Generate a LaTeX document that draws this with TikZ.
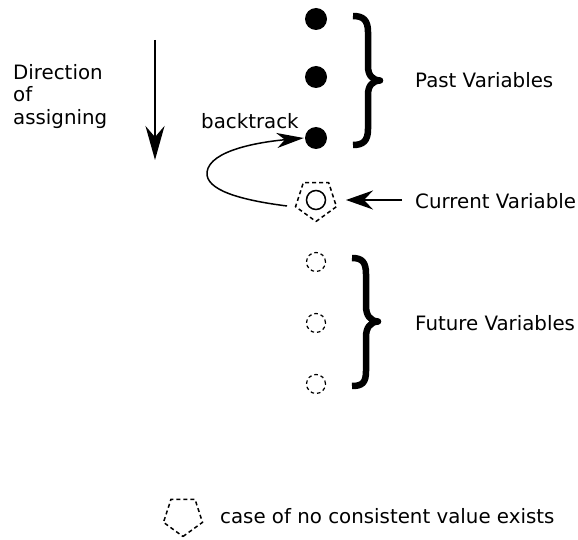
\documentclass[tikz,border=0pt]{standalone}
\usepackage{fontspec}
\setmainfont{DejaVu Sans}
\usetikzlibrary{arrows.meta,shapes.geometric}
\begin{document}
\begin{tikzpicture}[x=1pt,y=-1pt,
  lbl/.style={font=\fontsize{19.8}{22.5}\selectfont,anchor=west,inner sep=0pt},
  past/.style={circle,fill=black,minimum size=22pt,inner sep=0pt},
  fut/.style={circle,draw,dash pattern=on 3.5pt off 3pt,minimum size=19pt,inner sep=0pt,line width=1.2pt},
  pent/.style={regular polygon,regular polygon sides=5,shape border rotate=180,draw,dash pattern=on 4pt off 3pt,line width=1.5pt,inner sep=0pt},
  curly/.style={line width=6.5pt,line join=round},
  arr/.style={line width=1.6pt}
]
\useasboundingbox (0,0) rectangle (578,540);
\node[past] (p1) at (316,19) {};
\node[past] (p2) at (316,77) {};
\node[past] (p3) at (316,138) {};
\draw[curly] (353,16) .. controls (363,16) and (368,20) .. (368,32) -- (368,66)
  .. controls (368,75) and (372,80) .. (380,80.5)
  .. controls (372,81) and (368,86) .. (368,95) -- (368,129)
  .. controls (368,141) and (363,145) .. (353,145);
\node[lbl] (pl) at (415,80) {Past Variables};

\node[pent,minimum size=43pt] (cp) at (316,200) {};
\node[circle,draw,line width=1.5pt,minimum size=19pt,inner sep=0pt] (cc) at (316,200) {};
\coordinate (ca) at (402,200);
\coordinate (ct) at (346,200);
\node[lbl] (cl) at (415,201) {Current Variable};
\draw[arr,-{Stealth[length=27pt,width=19pt,inset=9pt]}] (ca) -- (ct);

\node[fut] (f1) at (316,262) {};
\node[fut] (f2) at (316,323) {};
\node[fut] (f3) at (316,384) {};
\draw[curly] (352,258) .. controls (362,258) and (366,262) .. (366,274) -- (366,306)
  .. controls (366,315) and (370,321) .. (378,321.5)
  .. controls (370,322) and (366,328) .. (366,337) -- (366,371)
  .. controls (366,383) and (362,386) .. (352,386);
\node[lbl] (fl) at (415,323) {Future Variables};

\coordinate (d1) at (155,40);
\coordinate (d2) at (155,160);
\draw[arr,line width=2pt,-{Stealth[length=34pt,width=19pt,inset=11pt]}] (d1) -- (d2);
\node[lbl,align=left,anchor=north west] (dl) at (13,64) {Direction\\of\\assigning};

\node[lbl] (bl) at (201,121) {backtrack};
\coordinate (bs) at (287,206);
\draw[arr,line width=1.5pt,-{Stealth[length=27pt,width=15pt,inset=8pt]}] (bs) .. controls (240,200) and (205,190) .. (207,172) .. controls (210,150) and (260,142) .. ([xshift=-1pt]p3.west);

\node[pent,minimum size=41pt] (lp) at (183,516) {};
\node[lbl] (ll) at (220,516) {case of no consistent value exists};
\end{tikzpicture}
\end{document}
